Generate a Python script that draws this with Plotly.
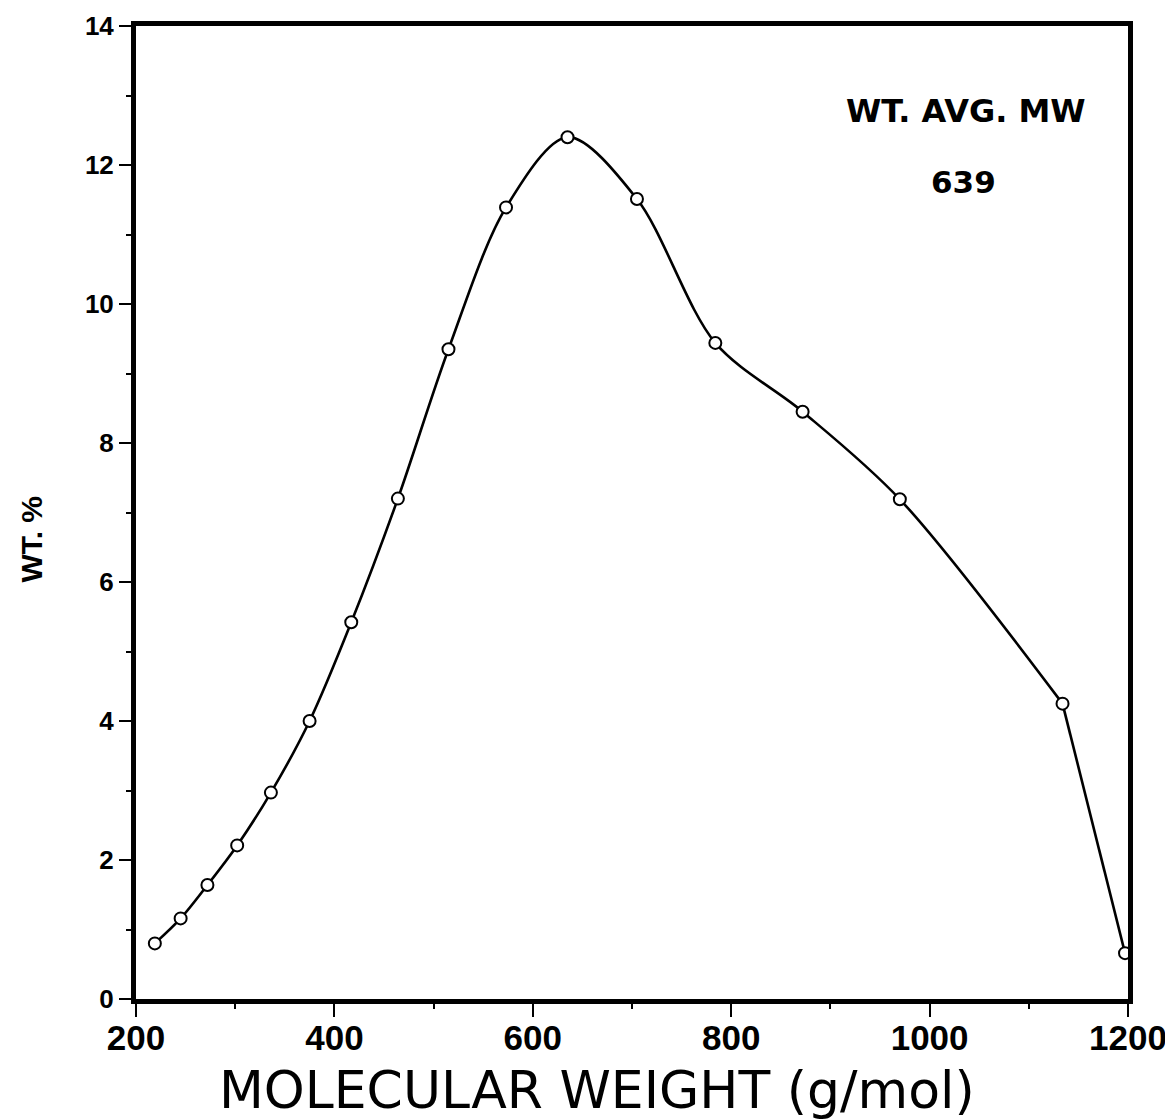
import plotly.graph_objects as go

mw = [219, 245, 272, 302, 336, 375, 417, 464, 515, 573, 635, 705, 784, 872, 970, 1134, 1197]
wt = [0.80, 1.16, 1.64, 2.21, 2.97, 4.00, 5.42, 7.20, 9.35, 11.39, 12.40, 11.51, 9.44, 8.45, 7.19, 4.25, 0.66]

x_ticks = [200, 400, 600, 800, 1000, 1200]
y_ticks = [0, 2, 4, 6, 8, 10, 12, 14]

fig = go.Figure()
# smooth curve through the main body, then a near-straight final stretch
fig.add_trace(go.Scatter(
    x=mw[:16], y=wt[:16], mode="lines",
    line=dict(color="black", width=2.6, shape="spline", smoothing=0.9),
    showlegend=False, hoverinfo="skip",
))
fig.add_trace(go.Scatter(
    x=mw[15:], y=wt[15:], mode="lines",
    line=dict(color="black", width=2.6),
    showlegend=False, hoverinfo="skip",
))
fig.add_trace(go.Scatter(
    x=mw, y=wt, mode="markers",
    marker=dict(symbol="circle", size=12, color="white", line=dict(color="black", width=2)),
    showlegend=False, cliponaxis=False,
))

LIB = "Liberation Sans"
DJ = "DejaVu Sans"
fig.add_annotation(x=1037, y=12.77, xref="x", yref="y", text="<b>WT. AVG. MW</b>",
                   showarrow=False, font=dict(family=DJ, size=32, color="black"))
fig.add_annotation(x=1034, y=11.75, xref="x", yref="y", text="<b>639</b>",
                   showarrow=False, font=dict(family=DJ, size=31, color="black"))
fig.add_annotation(x=0.465, y=-0.061, xref="paper", yref="paper", text="MOLECULAR WEIGHT (g/mol)",
                   showarrow=False, xanchor="center", yanchor="top",
                   font=dict(family=DJ, size=52, color="black"))
fig.add_annotation(x=-0.105, y=0.473, xref="paper", yref="paper", text="<b>WT. %</b>",
                   showarrow=False, xanchor="center", yanchor="middle", textangle=-90,
                   font=dict(family=LIB, size=30, color="black"))

axis_common = dict(
    showline=True, linecolor="black", linewidth=5, mirror=True,
    showgrid=False, zeroline=False, automargin=False,
    ticks="outside", tickcolor="black", tickwidth=2,
)

fig.update_xaxes(range=[200, 1200], tickvals=x_ticks, ticktext=[f"<b>{v}</b>" for v in x_ticks],
                 ticklen=13, ticklabelstandoff=-9, tickfont=dict(family=LIB, size=35, color="black"),
                 minor=dict(ticks="outside", dtick=100, ticklen=5, tickcolor="black", tickwidth=1.5),
                 **axis_common)
fig.update_yaxes(range=[0, 14], tickvals=y_ticks, ticktext=[f"<b>{v}</b>" for v in y_ticks],
                 ticklen=12, tickfont=dict(family=LIB, size=26, color="black"),
                 minor=dict(ticks="outside", dtick=1, ticklen=5, tickcolor="black", tickwidth=1.5),
                 **axis_common)

fig.update_layout(
    width=1173, height=1119,
    margin=dict(l=128, r=53, t=18, b=128),
    plot_bgcolor="white", paper_bgcolor="white",
)

fig.write_html("out.html")
